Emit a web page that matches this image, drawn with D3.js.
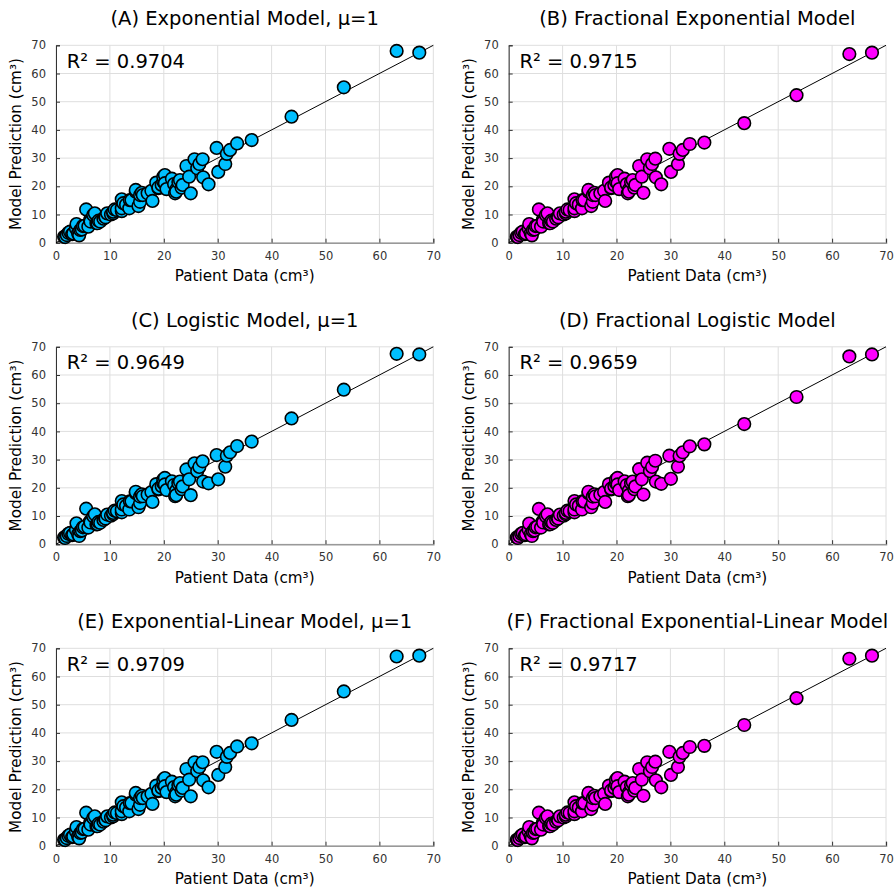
<!DOCTYPE html>
<html>
<head>
<meta charset="utf-8">
<script src="https://cdn.jsdelivr.net/npm/d3@7"></script>
<style>
html,body{margin:0;padding:0;background:#fff;}
svg{display:block;font-family:"DejaVu Sans",sans-serif;}
</style>
</head>
<body>
<svg id="chart" width="896" height="889"></svg>
<script>
// Patient data (shared x values, cm³)
const patientData = [1.5,1.7,2.0,2.3,2.6,3.0,3.2,3.7,3.8,4.1,4.3,4.5,4.8,5.0,5.3,5.6,6.0,6.3,6.4,6.9,7.2,7.5,7.7,7.9,8.2,8.8,9.1,9.2,9.5,10.2,10.6,10.6,10.9,11.3,12.2,12.2,12.2,12.5,13.0,13.6,13.7,14.0,14.8,14.8,15.3,15.6,15.6,15.9,16.1,17.0,17.7,17.9,18.6,19.0,19.0,19.6,19.9,19.9,20.2,20.2,20.5,21.5,21.9,22.1,22.3,22.3,22.7,23.0,23.3,23.5,24.2,24.7,25.0,25.7,26.2,26.6,27.2,27.3,28.3,29.8,30.1,31.4,31.7,32.3,33.6,36.3,43.7,53.4,63.2,67.4];

const predA = [2.1,2.0,2.7,3.5,3.9,3.0,3.3,5.0,6.6,3.3,2.6,4.5,4.7,5.9,6.0,11.8,5.7,8.0,7.5,9.8,10.4,6.9,6.9,7.8,7.5,8.5,9.2,9.0,10.4,10.0,10.4,11.0,11.8,11.6,11.2,12.2,15.4,14.0,13.5,12.2,15.1,15.1,18.1,18.7,13.0,14.5,16.9,17.7,16.9,17.5,18.4,14.8,21.3,19.3,19.6,20.5,21.6,23.4,24.0,21.1,19.0,22.7,20.8,17.5,18.9,18.1,21.5,22.2,19.5,20.5,27.2,23.4,17.5,29.6,26.4,27.9,29.6,23.2,20.7,33.6,25.1,27.9,31.5,32.9,35.2,36.4,44.7,55.1,68.0,67.4];
const predB = [2.1,2.0,2.7,3.5,3.9,3.0,3.3,5.0,6.6,3.3,2.6,4.5,4.7,5.9,6.0,11.8,5.7,8.0,7.5,9.8,10.4,6.9,6.9,7.8,7.5,8.5,9.2,9.0,10.4,10.0,10.4,11.0,11.8,11.6,11.2,12.2,15.4,14.0,13.5,12.2,15.1,15.1,18.1,18.7,13.0,14.5,16.9,17.7,16.9,17.5,18.4,14.8,21.3,19.3,19.6,20.5,21.6,23.4,24.0,21.1,19.0,22.7,20.8,17.5,18.9,18.1,21.5,22.2,19.5,20.5,27.2,23.4,17.7,29.6,26.4,27.9,29.8,23.2,20.7,33.3,25.1,27.9,31.5,32.9,35.0,35.5,42.4,52.3,66.9,67.4];
const predC = [2.4,2.2,2.9,3.7,4.0,3.2,3.5,5.1,7.4,3.6,2.9,4.6,4.9,6.0,6.2,12.6,5.9,8.1,7.7,9.9,10.6,7.0,7.1,7.9,7.6,8.6,9.3,9.1,10.5,10.1,10.6,11.1,11.9,11.7,11.3,12.3,15.3,14.1,13.6,12.3,15.2,15.2,18.1,18.6,13.1,14.6,16.9,17.7,17.0,17.6,18.5,15.0,21.3,19.4,19.7,20.6,21.6,22.9,23.5,21.2,19.2,22.3,21.0,17.0,19.0,17.4,21.6,22.2,19.5,20.5,26.5,23.0,17.4,28.7,25.9,27.4,29.4,22.2,21.6,31.6,23.0,27.5,31.4,32.6,34.8,36.4,44.6,54.8,67.5,67.3];
const predD = [2.4,2.2,2.9,3.7,4.0,3.2,3.5,5.1,7.3,3.6,2.9,4.6,4.9,6.0,6.2,12.5,5.9,8.1,7.7,9.9,10.6,7.0,7.1,7.9,7.6,8.6,9.3,9.1,10.5,10.1,10.6,11.1,11.9,11.7,11.3,12.3,15.3,14.1,13.6,12.3,15.2,15.2,18.1,18.6,13.1,14.6,16.9,17.7,17.0,17.6,18.5,15.0,21.3,19.4,19.7,20.6,21.6,22.9,23.5,21.2,19.2,22.3,21.0,17.0,19.0,17.4,21.6,22.2,19.5,20.5,26.6,23.0,17.6,28.9,25.9,27.4,29.6,22.2,21.4,31.4,23.2,27.5,31.3,32.6,34.7,35.4,42.6,52.2,66.6,67.3];
const predE = [2.1,2.0,2.7,3.5,3.9,3.0,3.3,5.0,6.6,3.3,2.6,4.5,4.7,5.9,6.0,11.7,5.7,8.0,7.5,9.8,10.4,6.9,6.9,7.8,7.5,8.5,9.2,9.0,10.4,10.0,10.4,11.0,11.8,11.6,11.2,12.2,15.4,14.0,13.5,12.2,15.1,15.1,18.1,18.7,13.0,14.5,16.9,17.7,16.9,17.5,18.4,14.8,21.3,19.3,19.6,20.5,21.6,23.4,24.0,21.1,19.0,22.7,20.8,17.5,18.9,18.1,21.5,22.2,19.5,20.5,27.2,23.4,17.5,29.6,26.4,27.9,29.6,23.2,20.7,33.3,25.1,27.9,31.5,32.9,35.2,36.3,44.6,54.7,67.1,67.4];
const predF = [2.1,2.0,2.7,3.5,3.9,3.0,3.3,5.0,6.6,3.3,2.6,4.5,4.7,5.9,6.0,11.7,5.7,8.0,7.5,9.8,10.4,6.9,6.9,7.8,7.5,8.5,9.2,9.0,10.4,10.0,10.4,11.0,11.8,11.6,11.2,12.2,15.4,14.0,13.5,12.2,15.1,15.1,18.1,18.7,13.0,14.5,16.9,17.7,16.9,17.5,18.4,14.8,21.3,19.3,19.6,20.5,21.6,23.4,24.0,21.1,19.0,22.7,20.8,17.5,18.9,18.1,21.5,22.2,19.5,20.5,27.2,23.4,17.7,29.6,26.4,27.9,29.8,23.2,20.7,33.3,25.1,27.9,31.5,32.9,35.0,35.4,42.8,52.3,66.3,67.4];

const panelTitles = ["(A) Exponential Model, μ=1","(B) Fractional Exponential Model","(C) Logistic Model, μ=1","(D) Fractional Logistic Model","(E) Exponential-Linear Model, μ=1","(F) Fractional Exponential-Linear Model"];
const r2Labels = ["R² = 0.9704","R² = 0.9715","R² = 0.9649","R² = 0.9659","R² = 0.9709","R² = 0.9717"];
const predictions = [predA,predB,predC,predD,predE,predF];
const tickValues = [0,10,20,30,40,50,60,70];
const xLabel = "Patient Data (cm³)";
const yLabel = "Model Prediction (cm³)";

const colors = ["#00BFFF","#FF00FF"];
const colLeft = [56, 508.7];
const rowTop = [45.3, 346.8, 648.3];
const pw = 377.3, ph = 197.4;

const svg = d3.select("#chart");

predictions.forEach((pred, i) => {
  const col = i % 2, row = Math.floor(i / 2);
  const L = colLeft[col], T = rowTop[row];
  const g = svg.append("g").attr("transform", `translate(${L},${T})`);
  const x = d3.scaleLinear().domain([0,70]).range([0,pw]);
  const y = d3.scaleLinear().domain([0,70]).range([ph,0]);

  // grid
  g.append("g").selectAll("line").data(tickValues).join("line")
    .attr("x1", d=>x(d)).attr("x2", d=>x(d)).attr("y1",0).attr("y2",ph)
    .attr("stroke","#dedede").attr("stroke-width",1);
  g.append("g").selectAll("line").data(tickValues).join("line")
    .attr("y1", d=>y(d)).attr("y2", d=>y(d)).attr("x1",0).attr("x2",pw)
    .attr("stroke","#dedede").attr("stroke-width",1);

  // axes
  const xAxis = d3.axisBottom(x).tickValues(tickValues).tickSize(-4).tickPadding(9);
  const yAxis = d3.axisLeft(y).tickValues(tickValues).tickSize(-4).tickPadding(10);
  const gx = g.append("g").attr("transform",`translate(0,${ph})`).call(xAxis);
  const gy = g.append("g").call(yAxis);
  [gx,gy].forEach(a=>{
    a.select(".domain").attr("stroke","#333").attr("stroke-width",1);
    a.selectAll(".tick line").attr("stroke","#333");
    a.selectAll(".tick text").attr("font-family","DejaVu Sans").attr("font-size",11.5).attr("fill","#333");
  });
  gx.select(".domain").attr("stroke","#999").attr("stroke-width",1.5);

  // identity line
  g.append("line").attr("x1",x(0)).attr("y1",y(0)).attr("x2",x(70)).attr("y2",y(70))
    .attr("stroke","#000").attr("stroke-width",1);

  // points
  const pts = patientData.map((v,k)=>({x:v,y:pred[k]}));
  g.append("g").selectAll("circle").data(pts).join("circle")
    .attr("cx", d=>x(d.x)).attr("cy", d=>y(d.y)).attr("r",6.3)
    .attr("fill",colors[col]).attr("stroke","#000").attr("stroke-width",1.6);

  // texts
  g.append("text").attr("x",pw/2).attr("y",-20).attr("text-anchor","middle")
    .attr("font-size",19.5).attr("fill","#000").text(panelTitles[i]);
  g.append("text").attr("x",10.7).attr("y",22.7)
    .attr("font-size",19.5).attr("fill","#000").text(r2Labels[i]);
  g.append("text").attr("x",pw/2).attr("y",ph+38.5).attr("text-anchor","middle")
    .attr("font-size",15.2).attr("fill","#000").text(xLabel);
  g.append("text").attr("transform",`translate(-35,${ph/2}) rotate(-90)`)
    .attr("text-anchor","middle").attr("font-size",15.2).attr("fill","#000").text(yLabel);
});
</script>
</body>
</html>
